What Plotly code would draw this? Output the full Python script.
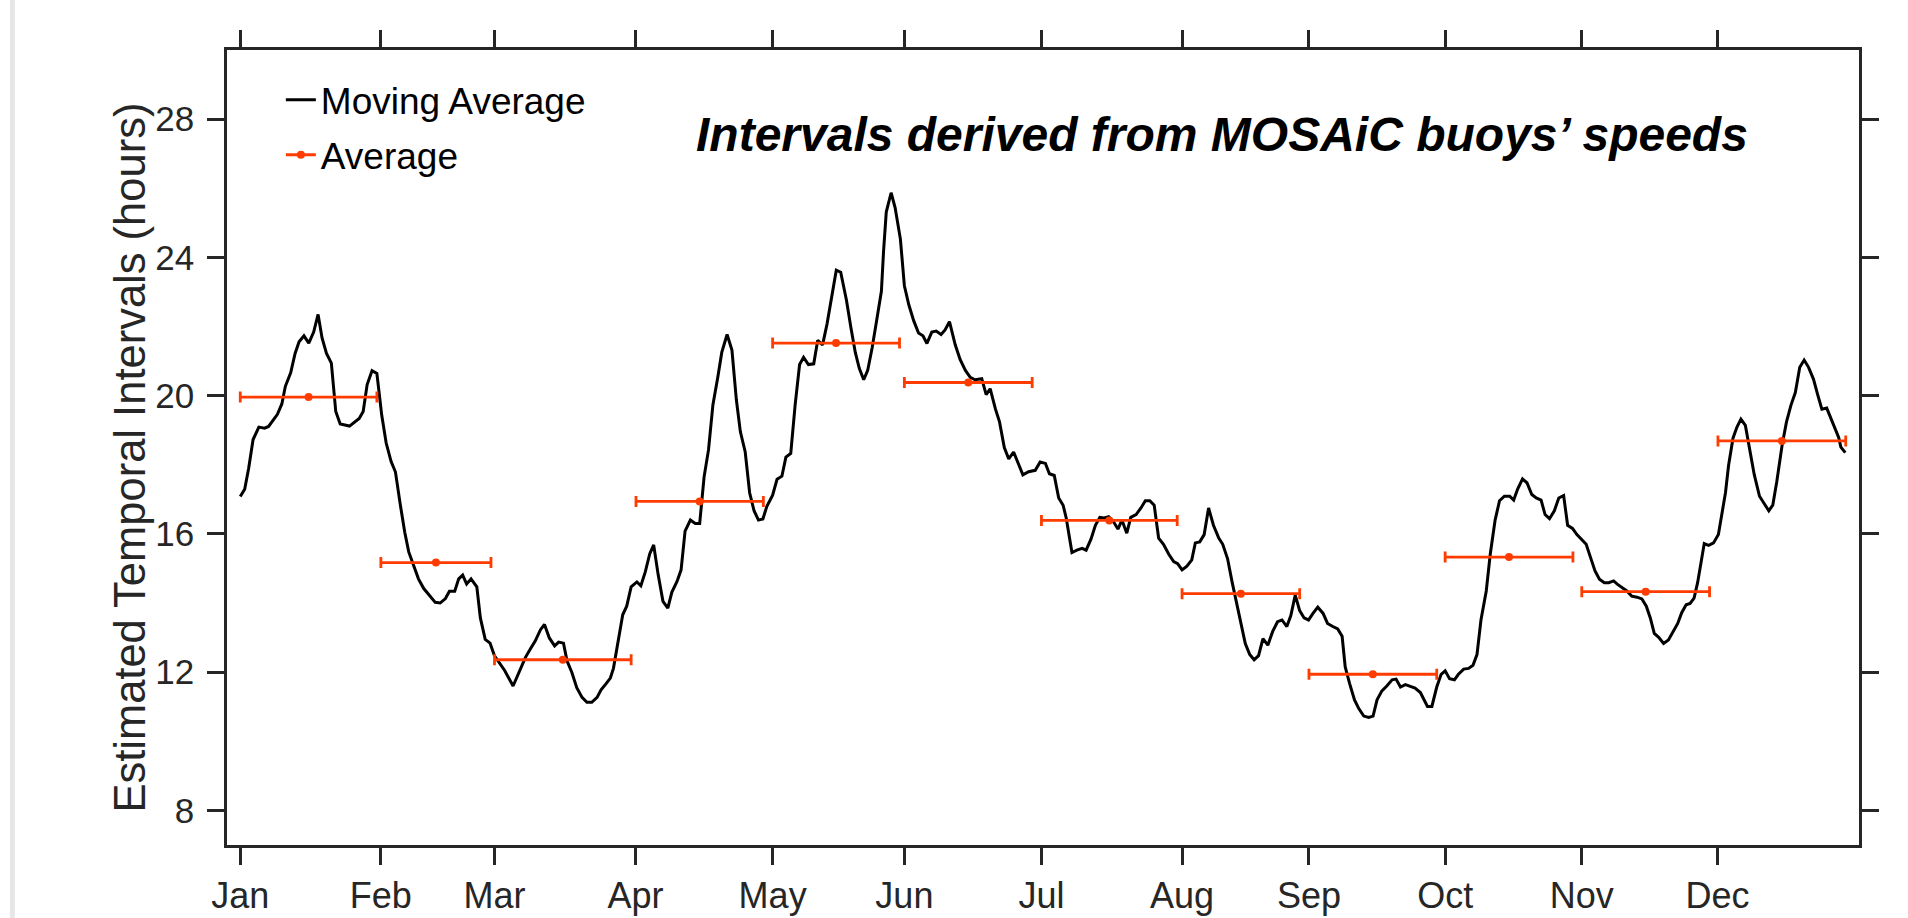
import numpy as np
import plotly.graph_objects as go

# Moving average of the temporal interval (hours) against day of year
day = [0.0, 1.0, 1.9, 2.9, 4.2, 5.5, 6.4, 7.4, 8.4, 9.4, 10.2, 11.4, 12.4, 13.3, 14.4, 15.5, 16.6, 17.6, 18.5, 19.5,
       20.6, 21.6, 22.6, 24.7, 25.6, 26.9, 27.8, 28.7, 29.8, 30.9, 32.0, 33.0, 34.1, 35.1, 36.2, 37.2, 38.1, 39.2, 40.3, 41.5,
       42.7, 44.1, 45.2, 46.4, 47.3, 48.5, 49.4, 50.3, 51.2, 52.2, 53.5, 54.3, 55.4, 56.5, 57.5, 58.6, 59.8, 61.7, 63.0, 64.5,
       65.6, 66.7, 67.9, 68.8, 69.9, 71.1, 72.0, 73.1, 73.9, 75.0, 76.1, 77.3, 78.4, 79.5, 80.7, 81.6, 82.7, 83.7, 84.4, 85.4,
       86.5, 87.4, 88.4, 89.7, 90.6, 91.6, 92.6, 93.5, 94.5, 95.6, 96.7, 97.6, 98.8, 99.7, 100.6, 101.8, 102.9, 103.9, 104.9, 105.9,
       106.9, 108.0, 108.9, 110.1, 111.2, 112.2, 113.1, 114.2, 115.2, 116.2, 117.2, 118.2, 119.1, 120.4, 121.4, 122.5, 123.4, 124.5, 125.5, 126.5,
       127.4, 128.5, 129.7, 130.6, 131.7, 132.7, 133.8, 134.8, 135.8, 137.1, 138.1, 139.1, 140.0, 141.0, 141.9, 142.9, 144.0, 145.0, 145.5, 146.1,
       147.2, 148.1, 149.3, 150.2, 151.2, 152.3, 153.4, 154.4, 155.3, 156.4, 157.4, 158.5, 159.4, 160.4, 161.7, 162.8, 164.0, 165.1, 166.2, 167.7,
       168.7, 169.6, 170.8, 171.7, 172.8, 173.8, 174.9, 176.0, 177.0, 178.3, 179.8, 180.9, 182.1, 183.0, 184.1, 185.1, 186.1, 186.8, 188.1, 189.2,
       190.4, 191.3, 192.4, 193.4, 194.4, 195.4, 196.4, 197.5, 198.5, 199.4, 200.5, 201.4, 202.6, 203.7, 204.7, 205.7, 206.7, 207.7, 208.8, 210.0,
       211.1, 212.0, 213.0, 214.1, 215.2, 216.0, 217.0, 218.0, 219.0, 220.1, 221.3, 222.2, 223.3, 224.3, 225.4, 226.3, 227.3, 228.3, 229.3, 230.3,
       231.3, 232.4, 233.5, 234.6, 235.6, 236.7, 237.6, 238.6, 239.6, 240.6, 241.6, 242.6, 243.7, 244.9, 245.9, 247.1, 248.2, 249.2, 249.9, 250.9,
       252.0, 253.0, 254.1, 255.2, 256.2, 257.1, 258.2, 259.3, 260.5, 261.4, 262.4, 263.5, 264.6, 265.7, 266.9, 267.6, 268.5, 269.5, 270.6, 271.6,
       272.5, 273.5, 274.6, 275.5, 276.7, 277.8, 278.8, 279.7, 280.6, 281.8, 282.7, 283.8, 284.8, 285.9, 287.1, 288.0, 288.9, 290.0, 291.0, 292.1,
       293.1, 294.2, 295.1, 296.1, 297.2, 298.2, 299.3, 300.2, 301.3, 302.3, 303.4, 304.4, 305.3, 306.4, 307.4, 308.5, 309.5, 310.6, 311.5, 312.5,
       313.6, 314.7, 315.9, 317.0, 318.0, 318.9, 319.8, 320.8, 321.9, 323.0, 324.0, 325.1, 326.0, 327.0, 327.9, 328.8, 329.6, 330.3, 331.1, 332.1,
       333.2, 334.3, 335.1, 335.9, 336.6, 337.6, 338.5, 339.4, 340.4, 341.4, 342.4, 343.6, 344.7, 345.7, 346.6, 347.5, 348.7, 349.7, 350.7, 351.7,
       352.7, 353.7, 354.7, 355.8, 356.8, 357.7, 358.8, 359.7, 360.7, 361.5, 362.0, 363.0]

moving_avg = [17.08, 17.29, 17.90, 18.73, 19.09, 19.06, 19.11, 19.29, 19.46, 19.76, 20.27, 20.66, 21.22, 21.56, 21.73, 21.52, 21.84, 22.35, 21.67, 21.22,
              20.94, 19.54, 19.18, 19.12, 19.22, 19.34, 19.54, 20.32, 20.72, 20.64, 19.43, 18.63, 18.10, 17.79, 16.84, 16.05, 15.48, 15.09, 14.70, 14.42,
              14.25, 14.02, 14.00, 14.13, 14.34, 14.34, 14.70, 14.81, 14.55, 14.70, 14.47, 13.57, 12.95, 12.84, 12.47, 12.28, 12.05, 11.60, 12.00, 12.43,
              12.67, 12.90, 13.23, 13.38, 12.99, 12.76, 12.87, 12.84, 12.33, 11.99, 11.55, 11.27, 11.13, 11.13, 11.27, 11.49, 11.66, 11.83, 12.11, 12.84,
              13.66, 13.91, 14.47, 14.61, 14.50, 14.90, 15.42, 15.68, 14.83, 14.05, 13.85, 14.31, 14.63, 14.96, 16.08, 16.40, 16.30, 16.30, 17.65, 18.43,
              19.74, 20.53, 21.25, 21.77, 21.32, 19.88, 18.96, 18.37, 17.19, 16.67, 16.40, 16.43, 16.80, 17.12, 17.58, 17.67, 18.22, 18.33, 19.74, 20.90,
              21.11, 20.90, 20.92, 21.60, 21.47, 22.07, 22.89, 23.63, 23.57, 22.76, 21.97, 21.25, 20.79, 20.46, 20.73, 21.38, 22.23, 23.02, 24.20, 25.31,
              25.87, 25.44, 24.53, 23.18, 22.63, 22.17, 21.81, 21.73, 21.51, 21.84, 21.87, 21.77, 21.90, 22.14, 21.47, 21.05, 20.73, 20.53, 20.46, 20.49,
              20.03, 20.20, 19.61, 19.25, 18.50, 18.17, 18.37, 18.04, 17.71, 17.80, 17.84, 18.08, 18.04, 17.74, 17.69, 17.04, 16.83, 16.46, 15.46, 15.53,
              15.58, 15.53, 15.85, 16.25, 16.48, 16.46, 16.50, 16.35, 16.14, 16.40, 16.02, 16.48, 16.56, 16.75, 16.96, 16.96, 16.83, 15.88, 15.70, 15.41,
              15.20, 15.14, 14.96, 15.07, 15.25, 15.74, 15.77, 15.98, 16.75, 16.25, 15.88, 15.70, 15.28, 14.62, 13.93, 13.35, 12.83, 12.51, 12.36, 12.48,
              12.97, 12.78, 13.18, 13.46, 13.51, 13.32, 13.64, 14.23, 13.78, 13.57, 13.51, 13.70, 13.88, 13.70, 13.41, 13.32, 13.25, 13.04, 12.15, 11.67,
              11.20, 10.94, 10.73, 10.69, 10.73, 11.20, 11.46, 11.60, 11.78, 11.80, 11.57, 11.64, 11.60, 11.54, 11.41, 11.25, 11.01, 11.01, 11.57, 11.94,
              12.04, 11.81, 11.78, 11.94, 12.09, 12.11, 12.20, 12.51, 13.51, 14.35, 15.41, 16.40, 16.96, 17.09, 17.09, 16.98, 17.30, 17.59, 17.48, 17.14,
              17.04, 16.98, 16.56, 16.44, 16.67, 17.04, 17.11, 16.25, 16.16, 15.98, 15.83, 15.70, 15.35, 14.93, 14.69, 14.59, 14.59, 14.64, 14.54, 14.46,
              14.35, 14.20, 14.17, 14.12, 13.91, 13.57, 13.12, 13.01, 12.83, 12.93, 13.18, 13.41, 13.72, 13.95, 13.99, 14.14, 14.59, 15.09, 15.72, 15.67,
              15.74, 15.98, 16.56, 17.19, 17.98, 18.77, 19.09, 19.32, 19.14, 18.46, 17.72, 17.09, 16.86, 16.67, 16.83, 17.51, 18.56, 19.24, 19.72, 20.09,
              20.82, 21.03, 20.82, 20.48, 20.01, 19.61, 19.64, 19.35, 19.03, 18.79, 18.51, 18.35]

# Monthly averages and the day span each one covers
month_avg = [19.96, 15.17, 12.36, 16.94, 21.52, 20.38, 16.39, 14.27, 11.94, 15.33, 14.33, 18.69]
month_start = [0.0, 31.8, 57.5, 89.5, 120.4, 150.2, 181.2, 213.0, 241.7, 272.5, 303.4, 334.2]
month_end = [30.9, 56.7, 88.4, 118.3, 149.1, 179.1, 211.9, 239.6, 270.6, 301.4, 332.3, 363.1]

# Month tick positions on the day axis and their labels
month_tick_day = [0.0, 31.8, 57.5, 89.4, 120.4, 150.2, 181.2, 213.0, 241.7, 272.5, 303.4, 334.1]
month_labels = ["Jan", "Feb", "Mar", "Apr", "May", "Jun", "Jul", "Aug", "Sep", "Oct", "Nov", "Dec"]
y_ticks = [8, 12, 16, 20, 24, 28]

start = np.array(month_start)
end = np.array(month_end)
center = (start + end) / 2
half = (end - start) / 2

RED = "#ff3c00"
AXIS = "#262626"
FONT = "Liberation Sans, Arial, sans-serif"

fig = go.Figure()

fig.add_trace(go.Scatter(
    x=day, y=moving_avg, mode="lines", name="Moving Average",
    line=dict(color="black", width=3), legendgroup="ma",
))

fig.add_trace(go.Scatter(
    x=center, y=month_avg, mode="markers", name="Average", showlegend=False,
    marker=dict(color=RED, size=8),
    error_x=dict(type="data", array=half, symmetric=True, color=RED, thickness=2.8, width=5.5),
))

# legend entry for the monthly averages (line with dot)
fig.add_trace(go.Scatter(
    x=[None], y=[None], mode="lines+markers", name="Average", legendgroup="avg",
    line=dict(color=RED, width=2.8), marker=dict(color=RED, size=8),
))

fig.update_layout(
    width=1908, height=918,
    margin=dict(l=227, r=49, t=50, b=73, autoexpand=False),
    paper_bgcolor="white", plot_bgcolor="white",
    font=dict(family=FONT, color=AXIS, size=36),
    showlegend=True,
    legend=dict(
        x=0.033, y=0.976, xanchor="left", yanchor="top",
        bgcolor="rgba(0,0,0,0)", borderwidth=0,
        font=dict(family=FONT, size=37, color="black"),
        traceorder="grouped", tracegroupgap=4,
    ),
    xaxis=dict(
        range=[-3.0, 366.1], tickmode="array", tickvals=month_tick_day, ticktext=month_labels,
        showline=True, linecolor=AXIS, linewidth=2.5, mirror="allticks",
        ticks="outside", ticklen=17, tickwidth=2.5, tickcolor=AXIS,
        showgrid=False, zeroline=False, tickfont=dict(size=36, color=AXIS),
        ticklabelstandoff=0, automargin=False,
    ),
    yaxis=dict(
        range=[7, 30], tickmode="array", tickvals=y_ticks,
        showline=True, linecolor=AXIS, linewidth=2.5, mirror="allticks",
        ticks="outside", ticklen=17, tickwidth=2.5, tickcolor=AXIS,
        showgrid=False, zeroline=False, tickfont=dict(size=35, color=AXIS),
        ticklabelstandoff=6, automargin=False,
    ),
    annotations=[
        dict(
            text="<b><i>Intervals derived from MOSAiC buoys’ speeds</i></b>",
            xref="paper", yref="paper", x=0.6097, y=0.894, xanchor="center", yanchor="middle",
            showarrow=False, font=dict(family=FONT, size=48, color="black"),
        ),
        dict(
            text="Estimated Temporal Intervals (hours)",
            xref="paper", yref="paper", x=-0.0600, y=0.4874, xanchor="center", yanchor="middle",
            textangle=-90, showarrow=False, font=dict(family=FONT, size=43.5, color=AXIS),
        ),
    ],
    shapes=[dict(
        type="rect", xref="paper", yref="paper", x0=-0.1330, x1=-0.1300, y0=-0.2, y1=1.2,
        fillcolor="#e6e6e6", line=dict(width=0), layer="below",
    )],
)

fig.write_html("out.html")
